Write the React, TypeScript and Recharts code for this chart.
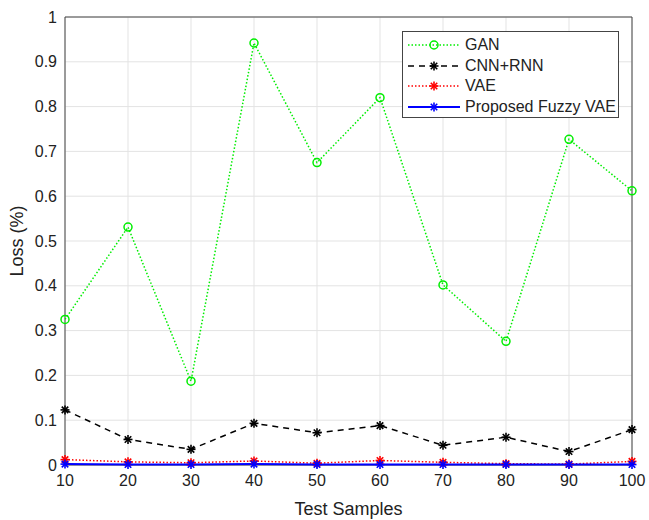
import React from "react";
import {
  LineChart,
  Line,
  XAxis,
  YAxis,
  CartesianGrid,
  ReferenceArea,
} from "recharts";

const samples = [10, 20, 30, 40, 50, 60, 70, 80, 90, 100];
const gan = [0.325, 0.531, 0.187, 0.942, 0.675, 0.82, 0.402, 0.276, 0.727, 0.612];
const cnnRnn = [0.123, 0.057, 0.035, 0.093, 0.072, 0.088, 0.044, 0.062, 0.03, 0.079];
const vae = [0.012, 0.007, 0.005, 0.009, 0.004, 0.01, 0.006, 0.003, 0.002, 0.008];
const fuzzyVae = [0.002, 0.001, 0.001, 0.002, 0.001, 0.001, 0.001, 0.001, 0.001, 0.001];
const yTicks = [0, 0.1, 0.2, 0.3, 0.4, 0.5, 0.6, 0.7, 0.8, 0.9, 1];
const xTicks = samples;

const data = samples.map((s, i) => ({
  x: s,
  gan: gan[i],
  cnnRnn: cnnRnn[i],
  vae: vae[i],
  fuzzyVae: fuzzyVae[i],
}));

const FONT = "'Liberation Sans', Arial, sans-serif";

function Star({ cx, cy, color, r = 4.5 }: { cx: number; cy: number; color: string; r?: number }) {
  const d = r * 0.72;
  return (
    <g stroke={color} strokeWidth={1.6}>
      <line x1={cx - r} y1={cy} x2={cx + r} y2={cy} />
      <line x1={cx} y1={cy - r} x2={cx} y2={cy + r} />
      <line x1={cx - d} y1={cy - d} x2={cx + d} y2={cy + d} />
      <line x1={cx - d} y1={cy + d} x2={cx + d} y2={cy - d} />
    </g>
  );
}

const starDot = (color: string) => (props: any) => {
  const { cx, cy, index } = props;
  if (cx == null || cy == null) return <g key={index} />;
  return <Star key={index} cx={cx} cy={cy} color={color} />;
};

const legendItems = [
  { name: "GAN", color: "#00ee00", dash: "1.5 2", width: 1.5, marker: "circle" },
  { name: "CNN+RNN", color: "#000000", dash: "6 5", width: 1.5, marker: "star" },
  { name: "VAE", color: "#ff0000", dash: "1.5 2", width: 1.5, marker: "star" },
  { name: "Proposed Fuzzy VAE", color: "#0000ff", dash: undefined, width: 2, marker: "star" },
];

function LegendBox() {
  return (
    <div
      style={{
        position: "absolute",
        left: 402,
        top: 31,
        width: 217,
        height: 87,
        border: "1px solid #444",
        background: "#fff",
        boxSizing: "border-box",
        fontFamily: FONT,
        fontSize: 16,
        color: "#222",
        padding: "3px 0 0 4px",
      }}
    >
      {legendItems.map((it) => (
        <div key={it.name} style={{ display: "flex", alignItems: "center", height: 20.5 }}>
          <svg width={54} height={14}>
            <line
              x1={1}
              y1={7}
              x2={53}
              y2={7}
              stroke={it.color}
              strokeWidth={it.width}
              strokeDasharray={it.dash}
            />
            {it.marker === "circle" ? (
              <circle cx={27} cy={7} r={4} fill="none" stroke={it.color} strokeWidth={1.5} />
            ) : (
              <Star cx={27} cy={7} color={it.color} />
            )}
          </svg>
          <span style={{ marginLeft: 4, whiteSpace: "nowrap" }}>{it.name}</span>
        </div>
      ))}
    </div>
  );
}

export default function App() {
  return (
    <div
      style={{
        position: "fixed",
        left: 0,
        top: 0,
        width: 649,
        height: 520,
        background: "#fff",
        overflow: "hidden",
      }}
    >
      <LineChart
        width={649}
        height={520}
        data={data}
        margin={{ top: 17, right: 17, bottom: 0, left: 0 }}
      >
        <CartesianGrid stroke="#e3e3e3" strokeWidth={1} />
        <XAxis
          dataKey="x"
          type="number"
          domain={[10, 100]}
          ticks={xTicks}
          height={55}
          axisLine={false}
          tickLine={false}
          tick={{ fill: "#222", fontSize: 16, fontFamily: FONT }}
          tickMargin={4}
          label={{
            value: "Test Samples",
            position: "insideBottom",
            offset: 5,
            fill: "#222",
            fontSize: 18,
            fontFamily: FONT,
          }}
        />
        <YAxis
          type="number"
          domain={[0, 1]}
          ticks={yTicks}
          width={65}
          axisLine={false}
          tickLine={false}
          tick={{ fill: "#222", fontSize: 16, fontFamily: FONT }}
          tickMargin={2}
          label={{
            value: "Loss (%)",
            angle: -90,
            position: "insideLeft",
            offset: 17,
            style: { textAnchor: "middle" },
            fill: "#222",
            fontSize: 18,
            fontFamily: FONT,
          }}
        />
        <ReferenceArea x1={10} x2={100} y1={0} y2={1} fill="none" stroke="#444" strokeWidth={1} ifOverflow="visible" />
        <Line
          dataKey="gan"
          stroke="#00ee00"
          strokeWidth={1.5}
          strokeDasharray="1.5 2"
          dot={{ r: 4, fill: "none", stroke: "#00ee00", strokeWidth: 1.5, strokeDasharray: "" }}
          isAnimationActive={false}
        />
        <Line
          dataKey="cnnRnn"
          stroke="#000"
          strokeWidth={1.5}
          strokeDasharray="6 5"
          dot={starDot("#000")}
          isAnimationActive={false}
        />
        <Line
          dataKey="vae"
          stroke="#ff0000"
          strokeWidth={1.5}
          strokeDasharray="1.5 2"
          dot={starDot("#ff0000")}
          isAnimationActive={false}
        />
        <Line
          dataKey="fuzzyVae"
          stroke="#0000ff"
          strokeWidth={2}
          dot={starDot("#0000ff")}
          isAnimationActive={false}
        />
      </LineChart>
      <LegendBox />
    </div>
  );
}
